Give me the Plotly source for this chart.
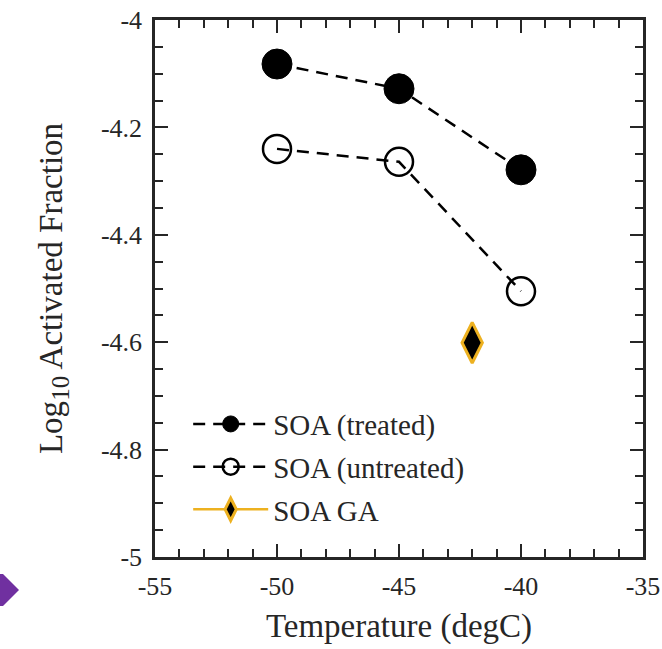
import plotly.graph_objects as go

temps = [-50, -45, -40]
treated = [-4.082, -4.128, -4.279]
untreated = [-4.240, -4.264, -4.505]
ga_temp = [-42]
ga_val = [-4.601]

x_ticks = [-55, -50, -45, -40, -35]
y_ticks = [-5, -4.8, -4.6, -4.4, -4.2, -4]
y_ticklabels = ["-5", "-4.8", "-4.6", "-4.4", "-4.2", "-4"]

FONT = "Liberation Serif"
AX = "#262626"
GOLD = "#EDB120"

fig = go.Figure()
fig.add_trace(go.Scatter(
    x=temps, y=treated, name="SOA (treated)", mode="lines+markers", legendgroup="a",
    line=dict(color="black", width=2.5, dash="12px,8px"),
    marker=dict(symbol="circle", size=30, color="black", line=dict(color="black", width=1)),
))
fig.add_trace(go.Scatter(
    x=temps, y=untreated, name="SOA (untreated)", mode="lines+markers", legendgroup="b",
    line=dict(color="black", width=2.5, dash="12px,8px"),
    marker=dict(symbol="circle-open", size=28, color="black", line=dict(color="black", width=2.5)),
))
fig.add_trace(go.Scatter(
    x=ga_temp, y=ga_val, name="SOA GA", mode="lines+markers", legendgroup="c",
    line=dict(color=GOLD, width=2.5),
    marker=dict(symbol="diamond-tall", size=29, color="black", line=dict(color=GOLD, width=3)),
))

axis_common = dict(
    showline=True, linecolor=AX, linewidth=2.5, mirror="ticks",
    ticks="inside", tickcolor=AX, tickwidth=2, ticklen=13,
    showgrid=False, zeroline=False, automargin=False,
    ticklabeloverflow="allow",
    tickfont=dict(family=FONT, size=26, color=AX),
)

fig.update_xaxes(
    range=[-55, -35], tickmode="array", tickvals=x_ticks,
    ticktext=[str(v) for v in x_ticks],
    minor=dict(ticks="inside", dtick=1, ticklen=8, tickwidth=2, tickcolor=AX, showgrid=False),
    title=dict(text="Temperature (degC)", font=dict(family=FONT, size=33, color=AX), standoff=14),
    ticklabelstandoff=4,
    **axis_common,
)
fig.update_yaxes(
    range=[-5, -4], tickmode="array", tickvals=y_ticks, ticktext=y_ticklabels,
    minor=dict(ticks="inside", dtick=0.05, tick0=-5, ticklen=8, tickwidth=2, tickcolor=AX, showgrid=False),
    title=dict(text="Log<sub><span style='font-size:25px'>10</span></sub> Activated Fraction",
               font=dict(family=FONT, size=33, color=AX), standoff=29),
    ticklabelstandoff=5,
    **axis_common,
)

fig.update_layout(
    width=662, height=649,
    margin=dict(l=155, r=19, t=20, b=92),
    plot_bgcolor="white", paper_bgcolor="white",
    showlegend=True,
    legend=dict(
        x=0.068, y=0.295, xanchor="left", yanchor="top",
        font=dict(family=FONT, size=29, color=AX),
        bgcolor="rgba(0,0,0,0)", itemwidth=75, tracegroupgap=2,
        traceorder="grouped",
    ),
)

# purple arrow decoration at lower left of the figure
fig.add_shape(
    type="path", xref="paper", yref="paper", layer="above",
    path="M -0.3176,-0.0317 L -0.3115,-0.0317 L -0.2787,-0.0615 L -0.3115,-0.0912 L -0.3176,-0.0912 Z",
    fillcolor="#7030A0", line=dict(width=0),
)

fig.write_html("out.html", config={"displayModeBar": False},
               post_script="document.body.style.margin='0';")
